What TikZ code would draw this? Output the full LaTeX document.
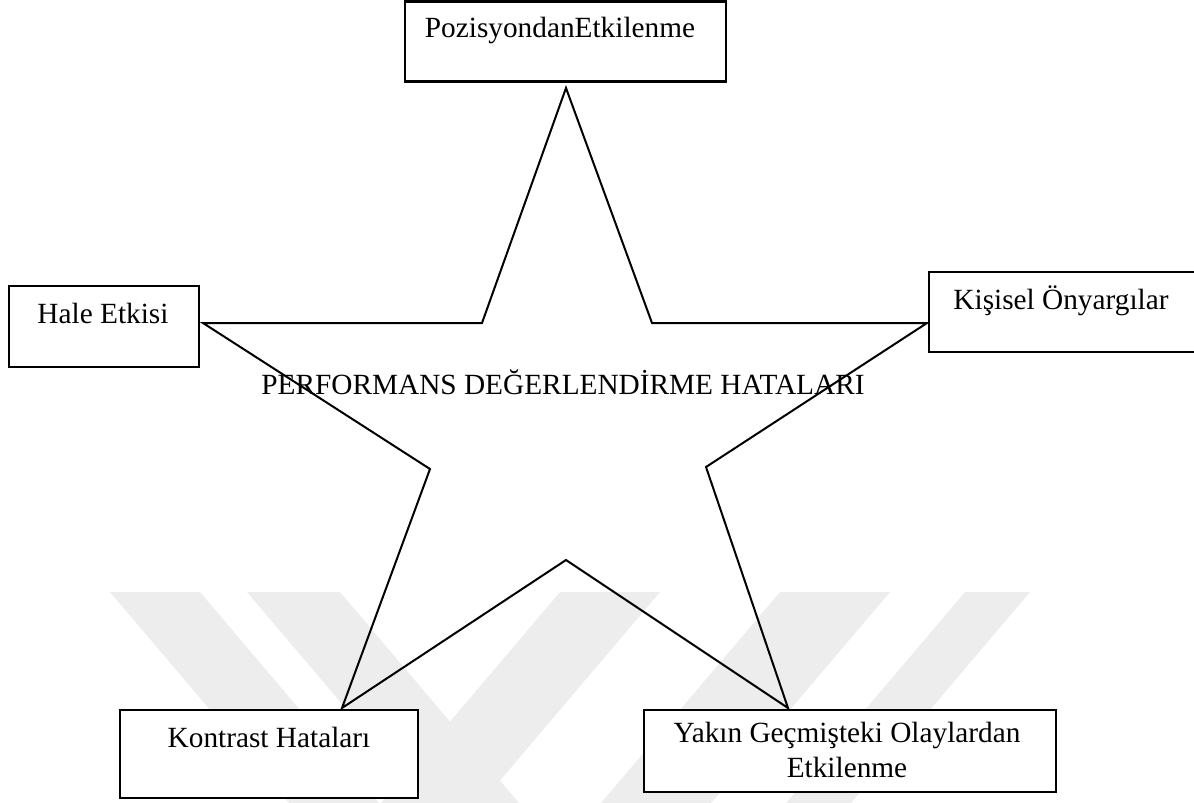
\documentclass[tikz,border=0pt]{standalone}
\usepackage{fontspec}
\setmainfont{Liberation Serif}
\begin{document}
\begin{tikzpicture}[x=1pt,y=-1pt,
  boxsty/.style={draw=black, fill=white, line width=2.8pt, inner sep=0pt},
  starline/.style={draw=black, line width=2pt, line join=miter},
  wmark/.style={fill=black!7, draw=none},
  lbl/.style={font=\fontsize{29.3}{35}\selectfont, inner sep=0pt, anchor=base}]
\useasboundingbox (0,0) rectangle (1194,803);
\clip (0,0) rectangle (1194,803);

% faint chevron bands in the background
\fill[wmark] (110,592) -- (200,592) -- (379,803) -- (289,803) -- cycle;
\fill[wmark] (247,592) -- (340,592) -- (519,803) -- (426,803) -- cycle;
\fill[wmark] (560,592) -- (660,592) -- (481,803) -- (381,803) -- cycle;
\fill[wmark] (780,592) -- (890,592) -- (711,803) -- (601,803) -- cycle;
\fill[wmark] (965,592) -- (1030,592) -- (851,803) -- (786,803) -- cycle;

% star vertices
\coordinate (sT)   at (566,88);
\coordinate (sUIR) at (652,323);
\coordinate (sRT)  at (927,323);
\coordinate (sRI)  at (706,467);
\coordinate (sBR)  at (788,708);
\coordinate (sBI)  at (566,560);
\coordinate (sBL)  at (342,708);
\coordinate (sLI)  at (430,469);
\coordinate (sLT)  at (203,323);
\coordinate (sUIL) at (482,323);

% five-pointed star
\draw[starline] (sT) -- (sUIR) -- (sRT) -- (sRI) -- (sBR) -- (sBI)
  -- (sBL) -- (sLI) -- (sLT) -- (sUIL) -- cycle;

% boxes at the star's points
\node[boxsty, minimum width=321pt, minimum height=80pt] (posbox) at (565.5,41.5) {};
\node[boxsty, minimum width=190pt, minimum height=81pt] (halebox) at (104,326.5) {};
\node[boxsty, minimum width=271pt, minimum height=80pt] (kisbox) at (1064.5,312) {};
\node[boxsty, minimum width=298pt, minimum height=88pt] (konbox) at (269,754) {};
\node[boxsty, minimum width=412pt, minimum height=82pt] (yakbox) at (850,751) {};

% labels
\node[lbl] (posT) at (560,37) {PozisyondanEtkilenme};
\node[lbl] (haleT) at (103,323) {Hale Etkisi};
\node[lbl] (kisT) at (1061,309) {Kişisel Önyargılar};
\node[lbl] (konT) at (269,747) {Kontrast Hataları};
\node[lbl] (yakT1) at (847,742) {Yakın Geçmişteki Olaylardan};
\node[lbl] (yakT2) at (847,777) {Etkilenme};
\node[lbl] (mainT) at (563,394) {PERFORMANS DEĞERLENDİRME HATALARI};
\end{tikzpicture}
\end{document}
